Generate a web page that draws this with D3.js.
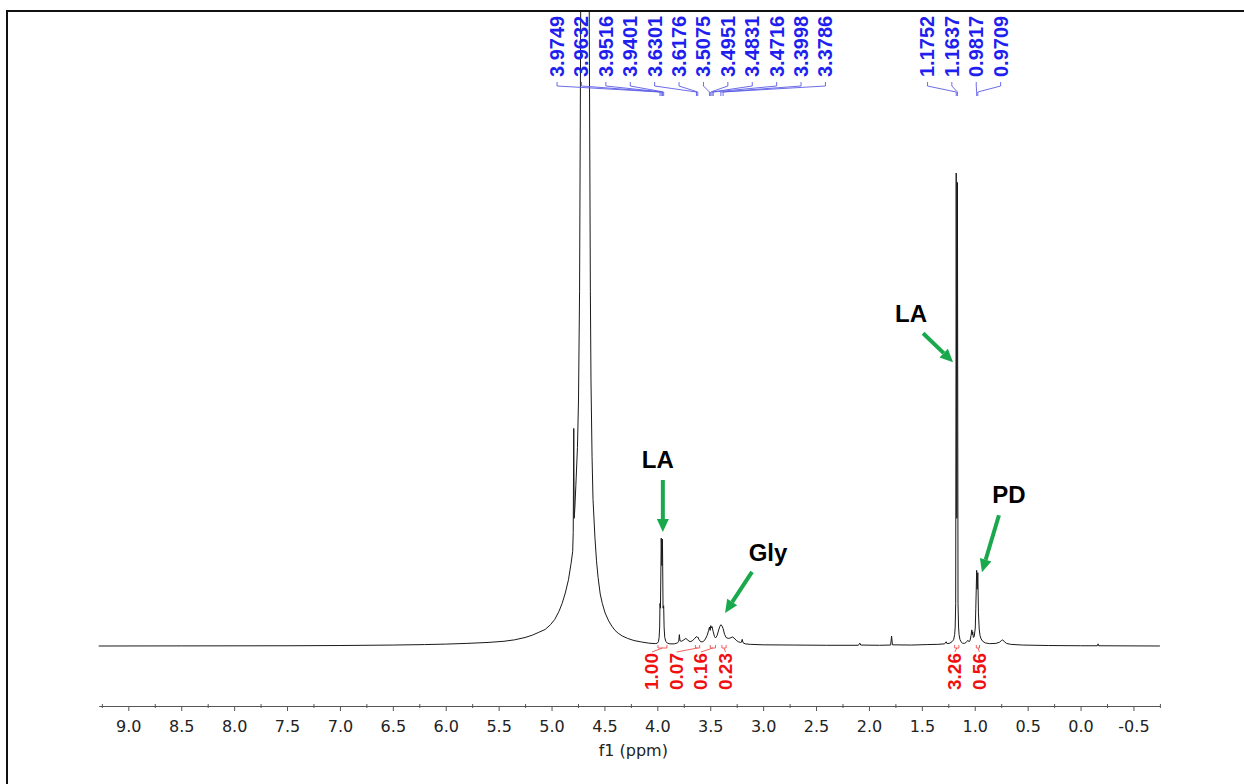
<!DOCTYPE html>
<html>
<head>
<meta charset="utf-8">
<script src="https://cdn.jsdelivr.net/npm/d3@7"></script>
<style>
  html, body { margin: 0; padding: 0; background: #fff; }
  svg { display: block; }
</style>
</head>
<body>
<svg id="chart" width="1244" height="784"></svg>
<script>
// ---------------- DATA ----------------
// 1H NMR trace: [chemical shift (ppm), intensity (LA 1.1752 line = 100)]
const spectrum = [
  [9.28,0],[8.5,0.02],[7.5,0.05],[7.0,0.1],[6.5,0.2],[6.2,0.3],[6.0,0.4],[5.8,0.55],[5.6,0.75],
  [5.45,1.0],[5.35,1.3],[5.25,1.8],[5.18,2.3],[5.12,2.9],[5.06,3.5],[5.01,4.5],[4.97,5.6],
  [4.93,7.3],[4.90,9.0],[4.87,11.2],[4.84,14],[4.815,17.5],[4.80,20],[4.795,24],[4.790,46],
  [4.786,27],[4.78,29],[4.77,34],[4.755,42],[4.745,52],[4.735,75],[4.725,130],[4.71,250],
  [4.683,600],[4.655,250],[4.643,130],[4.633,75],[4.627,56],[4.617,40],[4.608,31],[4.59,23],
  [4.575,18],[4.56,14.5],[4.54,11],[4.52,9],[4.494,7],[4.46,5.3],[4.43,4.2],[4.40,3.3],
  [4.37,2.7],[4.33,2.1],[4.28,1.6],[4.22,1.15],[4.15,0.85],[4.08,0.6],[4.02,0.5],
  [4.0,0.6],[3.99,0.9],[3.983,1.8],[3.978,4],[3.9749,9],[3.9705,8],[3.9632,22.8],[3.9574,17],
  [3.9516,22.6],[3.946,8],[3.9401,8.5],[3.936,4],[3.93,1.8],[3.92,1.0],[3.905,0.6],[3.88,0.45],
  [3.84,0.45],[3.81,0.65],[3.798,1.0],[3.792,2.4],[3.786,1.1],[3.77,1.0],[3.75,1.3],[3.73,1.6],
  [3.71,1.2],[3.69,0.9],[3.67,1.1],[3.65,1.5],[3.635,1.9],[3.6301,2.0],[3.624,1.8],[3.6176,1.9],
  [3.605,1.3],[3.59,0.9],[3.57,0.9],[3.55,1.3],[3.53,2.2],[3.515,3.3],[3.5075,4.0],[3.501,3.3],
  [3.4951,4.3],[3.489,3.8],[3.4831,4.1],[3.4716,3.0],[3.46,2.0],[3.45,1.7],[3.435,2.2],[3.42,3.4],
  [3.41,4.1],[3.3998,4.5],[3.39,4.3],[3.3786,3.7],[3.365,2.5],[3.35,1.8],[3.33,1.6],[3.31,1.7],
  [3.29,1.9],[3.275,1.7],[3.255,1.2],[3.235,0.9],[3.215,0.75],[3.205,0.8],[3.198,1.4],[3.19,0.7],
  [3.17,0.45],[3.12,0.35],[3.0,0.25],[2.7,0.2],[2.4,0.15],[2.1,0.15],[2.086,0.6],[2.078,0.2],
  [1.9,0.15],[1.795,0.2],[1.786,2.1],[1.778,0.25],[1.6,0.2],[1.45,0.3],[1.35,0.35],[1.285,0.45],
  [1.27,0.9],[1.262,0.5],[1.235,0.6],[1.215,0.9],[1.20,1.3],[1.19,2.4],[1.185,4],[1.18,9],
  [1.1752,100],[1.1695,27],[1.1637,98],[1.158,9],[1.153,4],[1.148,2.4],[1.14,1.4],[1.13,0.9],
  [1.115,0.6],[1.095,0.55],[1.075,0.9],[1.065,1.2],[1.055,0.9],[1.045,1.1],[1.035,2.2],[1.028,3.4],
  [1.023,2.4],[1.019,3.0],[1.013,1.8],[1.005,2.0],[0.995,3.8],[0.99,8],[0.9817,16],[0.9763,12],
  [0.9709,15.5],[0.965,7],[0.958,3.6],[0.95,2.2],[0.94,1.5],[0.925,1.0],[0.90,0.65],[0.86,0.5],
  [0.80,0.55],[0.765,0.8],[0.745,1.2],[0.735,1.3],[0.72,0.9],[0.70,0.55],[0.66,0.35],[0.55,0.2],
  [0.3,0.1],[0.0,0.05],[-0.16,0.05],[-0.166,0.45],[-0.172,0.05],[-0.75,0]
];

// picked peaks (blue labels), two groups
const peakGroupA = [3.9749, 3.9632, 3.9516, 3.9401, 3.6301, 3.6176, 3.5075, 3.4951, 3.4831, 3.4716, 3.3998, 3.3786];
const peakGroupB = [1.1752, 1.1637, 0.9817, 0.9709];

// integrals (red): region start / end (ppm) and values
const integralFrom   = [3.994, 3.64, 3.50, 3.39, 1.19, 0.985];
const integralTo     = [3.909, 3.60, 3.45, 3.35, 1.15, 0.955];
const integralValues = ["1.00", "0.07", "0.16", "0.23", "3.26", "0.56"];
const integralGroup  = [0, 0, 0, 0, 1, 1];

// axis
const majorTicks = [9.0, 8.5, 8.0, 7.5, 7.0, 6.5, 6.0, 5.5, 5.0, 4.5, 4.0, 3.5, 3.0, 2.5, 2.0, 1.5, 1.0, 0.5, 0.0, -0.5];
const minorTicks = [9.25, 8.75, 8.25, 7.75, 7.25, 6.75, 6.25, 5.75, 5.25, 4.75, 4.25, 3.75, 3.25, 2.75, 2.25, 1.75, 1.25, 0.75, 0.25, -0.25, -0.75];
const axisTitle = "f1 (ppm)";

// annotations: label and arrow-tip location (ppm, intensity)
const annotText = ["LA", "Gly", "LA", "PD"];
const annotPpm  = [3.948, 3.36, 1.205, 0.932];
const annotInt  = [24.1, 7.0, 60, 15.6];

// ---------------- LAYOUT / STYLE ----------------
const W = 1244, H = 784;
const annotLayout = [ // arrow start offset, label offset (px, relative to tip)
  { sx: 0,   sy: -52, lx: -5,  ly: -64 },
  { sx: 27,  sy: -41, lx: 43,  ly: -52 },
  { sx: -30, sy: -29, lx: -42, ly: -40 },
  { sx: 17,  sy: -57, lx: 27,  ly: -69 }
];
const green = "#19a84c";

const svg = d3.select("#chart");
svg.append("rect").attr("width", W).attr("height", H).attr("fill", "#fff");

const x = d3.scaleLinear().domain([9.28, -0.75]).range([98.7, 1159.9]);
const y = d3.scaleLinear().domain([0, 100]).range([646, 173]);

// page frame
svg.append("path")
  .attr("d", `M7,${H} L7,11 L${W},11`)
  .attr("fill", "none").attr("stroke", "#111").attr("stroke-width", 2);

// clip for spectrum
svg.append("defs").append("clipPath").attr("id", "plotclip")
  .append("rect").attr("x", 8).attr("y", 12).attr("width", W - 8).attr("height", 690);

// spectrum
const line = d3.line().x(d => x(d[0])).y(d => y(d[1]));
svg.append("path")
  .datum(spectrum)
  .attr("clip-path", "url(#plotclip)")
  .attr("d", line)
  .attr("fill", "none")
  .attr("stroke", "#1a1a1a")
  .attr("stroke-width", 1)
  .attr("stroke-linejoin", "round");

// axis
const axisY = 706;
const gAxis = svg.append("g").attr("transform", `translate(0,${axisY})`);
gAxis.call(d3.axisBottom(x).tickValues(majorTicks).tickSize(5).tickSizeOuter(0).tickPadding(10)
  .tickFormat(d => d.toFixed(1)));
gAxis.select(".domain").attr("stroke", "#555");
gAxis.selectAll(".tick line").attr("stroke", "#555");
gAxis.selectAll(".tick text")
  .attr("font-family", "'DejaVu Sans', Verdana, sans-serif")
  .attr("font-size", 16).attr("fill", "#222");
const gMinor = svg.append("g").attr("transform", `translate(0,${axisY - 2})`);
gMinor.call(d3.axisBottom(x).tickValues(minorTicks).tickSize(4).tickSizeOuter(0).tickFormat(""));
gMinor.select(".domain").remove();
gMinor.selectAll(".tick line").attr("stroke", "#555");

svg.append("text")
  .attr("x", (x.range()[0] + x.range()[1]) / 2 + 4)
  .attr("y", 756)
  .attr("text-anchor", "middle")
  .attr("font-family", "'DejaVu Sans', Verdana, sans-serif")
  .attr("font-size", 16).attr("fill", "#222")
  .text(axisTitle);

// peak labels (blue)
const blue = "#1f1fef";
function peakLabels(group) {
  const spacing = 24.4;
  const meanX = d3.mean(group, d => x(d)) - 3;
  const n = group.length;
  group.forEach((p, i) => {
    const lx = meanX + (i - (n - 1) / 2) * spacing;
    const px = x(p);
    svg.append("text")
      .attr("transform", `translate(${lx},77) rotate(-90)`)
      .attr("text-anchor", "start")
      .attr("dominant-baseline", "central")
      .attr("font-family", "'Liberation Sans', Arial, sans-serif")
      .attr("font-weight", "bold")
      .attr("font-size", 20)
      .attr("fill", blue)
      .text(p.toFixed(4));
    svg.append("path")
      .attr("d", `M${lx},82 L${lx},86 L${px},92 L${px},96`)
      .attr("fill", "none").attr("stroke", "#5b5be6").attr("stroke-width", 0.9);
  });
}
peakLabels(peakGroupA);
peakLabels(peakGroupB);

// integrals (red)
const red = "#f01010";
[0, 1].forEach(g => {
  const idx = integralGroup.map((v, i) => v === g ? i : -1).filter(i => i >= 0);
  const last = idx[idx.length - 1];
  const lastX = x((integralFrom[last] + integralTo[last]) / 2) + 1.5;
  idx.forEach((i, k) => {
    const lx = lastX - (idx.length - 1 - k) * 24.5;
    const x1 = x(integralFrom[i]), x2 = x(integralTo[i]);
    const by = 648;
    svg.append("path")
      .attr("d", `M${x1},${by - 3} L${x1},${by} L${x2},${by} L${x2},${by - 3}`)
      .attr("fill", "none").attr("stroke", "#f05050").attr("stroke-width", 0.9);
    svg.append("path")
      .attr("d", `M${(x1 + x2) / 2},${by} L${lx},${by + 4}`)
      .attr("fill", "none").attr("stroke", "#f05050").attr("stroke-width", 0.9);
    svg.append("text")
      .attr("transform", `translate(${lx},653) rotate(-90)`)
      .attr("text-anchor", "end")
      .attr("dominant-baseline", "central")
      .attr("font-family", "'Liberation Sans', Arial, sans-serif")
      .attr("font-weight", "bold")
      .attr("font-size", 19)
      .attr("fill", red)
      .text(integralValues[i]);
  });
});

// annotations
annotText.forEach((t, i) => {
  const tx = x(annotPpm[i]), ty = y(annotInt[i]);
  const L = annotLayout[i];
  const sx = tx + L.sx, sy = ty + L.sy;
  const ang = Math.atan2(ty - sy, tx - sx);
  const headLen = 13, headW = 6;
  const bx = tx - headLen * Math.cos(ang), by = ty - headLen * Math.sin(ang);
  svg.append("line")
    .attr("x1", sx).attr("y1", sy).attr("x2", bx).attr("y2", by)
    .attr("stroke", green).attr("stroke-width", 4);
  const nx = -Math.sin(ang), ny = Math.cos(ang);
  svg.append("path")
    .attr("d", `M${tx},${ty} L${bx + nx * headW},${by + ny * headW} L${bx - nx * headW},${by - ny * headW} Z`)
    .attr("fill", green);
  svg.append("text")
    .attr("x", tx + L.lx).attr("y", ty + L.ly)
    .attr("text-anchor", "middle")
    .attr("font-family", "'Liberation Sans', Arial, sans-serif")
    .attr("font-weight", "bold")
    .attr("font-size", 24)
    .attr("fill", "#000")
    .text(t);
});
</script>
</body>
</html>
